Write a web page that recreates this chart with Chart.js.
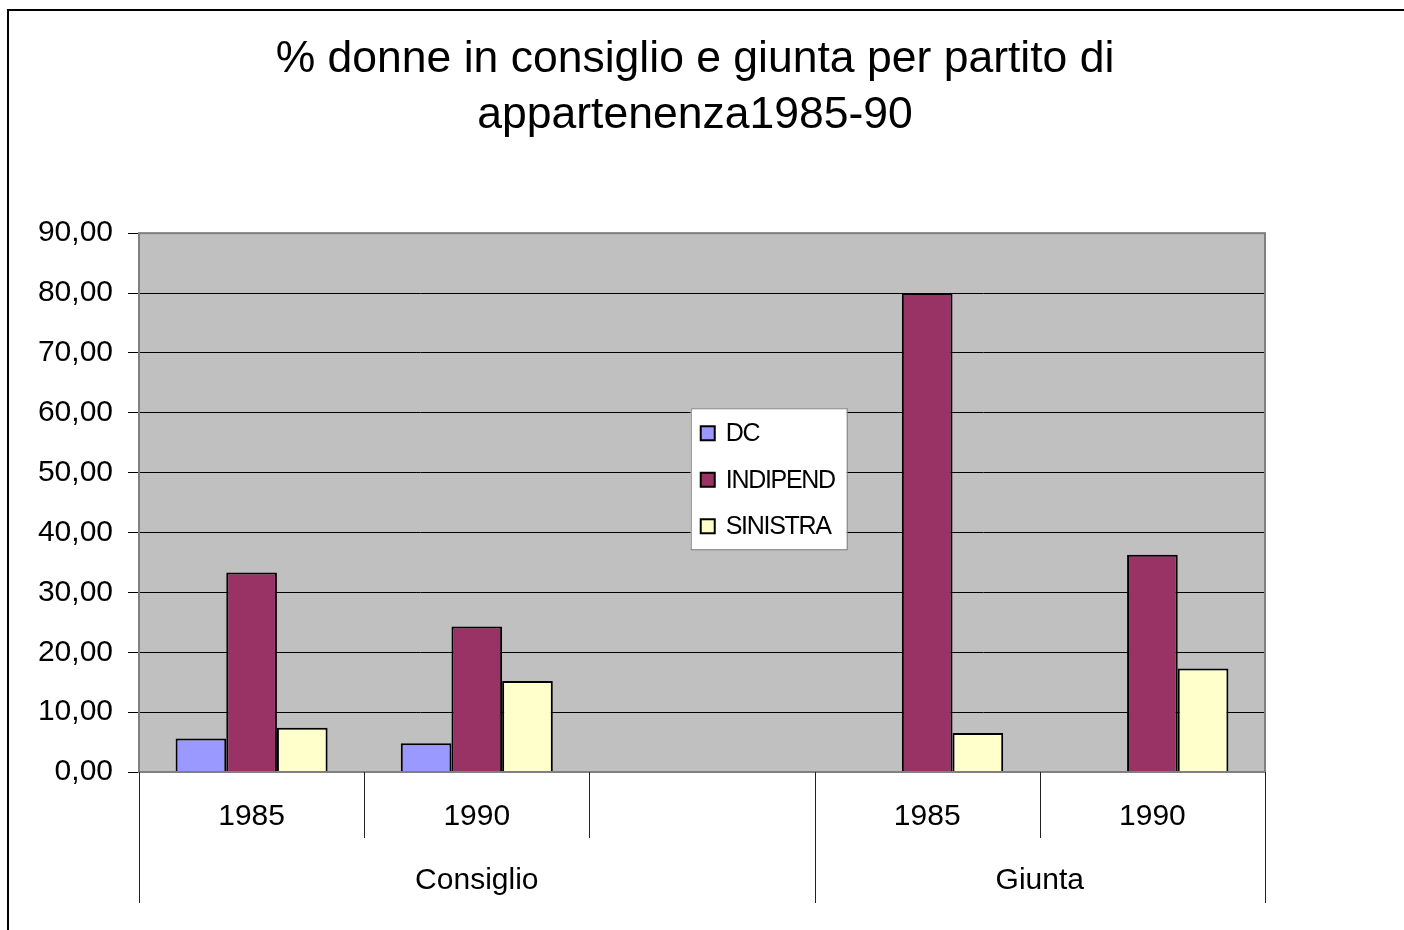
<!DOCTYPE html>
<html>
<head>
<meta charset="utf-8">
<script src="https://cdn.jsdelivr.net/npm/chart.js@4.4.0/dist/chart.umd.min.js"></script>
<style>
  html, body { margin: 0; padding: 0; background: #fff; }
  canvas { display: block; }
</style>
</head>
<body>
<canvas id="chart" width="1404" height="930"></canvas>
<script>
// data
const years = ['1985', '1990', '', '1985', '1990'];
const groups = ['Consiglio', 'Giunta'];
const groupSpans = [3, 2];
const dc = [5.6, 4.8, null, null, null];
const indipend = [33.3, 24.3, null, 80.0, 36.3];
const sinistra = [7.4, 15.2, null, 6.5, 17.3];
const titleLines = ['% donne in consiglio e giunta per partito di', 'appartenenza1985-90'];

const FONT = '"Liberation Sans", Arial, sans-serif';

// plot background, outer frame, two-level x axis and the boxed legend
const excelLook = {
  id: 'excelLook',
  beforeDraw(chart) {
    const { ctx, chartArea: a } = chart;
    ctx.save();
    ctx.fillStyle = '#fff';
    ctx.fillRect(0, 0, chart.width, chart.height);
    ctx.strokeStyle = '#000';
    ctx.lineWidth = 2;
    ctx.strokeRect(8, 10, chart.width + 40, chart.height + 40);
    ctx.fillStyle = '#c0c0c0';
    ctx.fillRect(a.left, a.top, a.right - a.left, a.bottom - a.top);
    ctx.restore();
  },
  afterDatasetsDraw(chart) {
    const { ctx, chartArea: a } = chart;
    ctx.save();
    ctx.strokeStyle = '#808080';
    ctx.lineWidth = 2;
    ctx.strokeRect(a.left, a.top, a.right - a.left, a.bottom - a.top);
    ctx.restore();
  },
  afterDraw(chart) {
    const { ctx, chartArea: a } = chart;
    const x = chart.scales.x;
    const n = chart.data.labels.length;
    const w = (x.right - x.left) / n;
    ctx.save();

    // category separators
    ctx.strokeStyle = '#222';
    ctx.lineWidth = 1;
    const groupEdges = [0];
    groupSpans.forEach(s => groupEdges.push(groupEdges[groupEdges.length - 1] + s));
    for (let i = 0; i <= n; i++) {
      const px = Math.round(x.left + i * w) + 0.5;
      const full = groupEdges.includes(i);
      ctx.beginPath();
      ctx.moveTo(px, a.bottom);
      ctx.lineTo(px, a.bottom + (full ? 131 : 66));
      ctx.stroke();
    }

    // year labels
    ctx.fillStyle = '#000';
    ctx.font = '30px ' + FONT;
    ctx.textAlign = 'center';
    ctx.textBaseline = 'middle';
    chart.data.labels.forEach((lab, i) => {
      if (lab) ctx.fillText(lab, x.getPixelForValue(i), a.bottom + 45);
    });

    // group labels
    groups.forEach((g, k) => {
      const cx = x.left + (groupEdges[k] + groupEdges[k + 1]) / 2 * w;
      ctx.fillText(g, cx, a.bottom + 109);
    });

    // legend box
    const lx = a.left + 0.49 * (a.right - a.left);
    const ly = a.top + 0.325 * (a.bottom - a.top);
    ctx.fillStyle = '#fff';
    ctx.fillRect(lx, ly, 156, 141);
    ctx.strokeStyle = '#808080';
    ctx.lineWidth = 1;
    ctx.strokeRect(lx + 0.5, ly + 0.5, 156, 141);
    ctx.font = '25px ' + FONT;
    ctx.textAlign = 'left';
    if ('letterSpacing' in ctx) ctx.letterSpacing = '-1.3px';
    chart.data.datasets.forEach((ds, i) => {
      const cy = ly + 25 + i * 46.5;
      ctx.fillStyle = ds.backgroundColor;
      ctx.fillRect(lx + 10, cy - 7, 14, 14);
      ctx.strokeStyle = '#000';
      ctx.lineWidth = 2;
      ctx.strokeRect(lx + 10, cy - 7, 14, 14);
      ctx.fillStyle = '#000';
      ctx.fillText(ds.label, lx + 35, cy + 1);
    });
    ctx.restore();
  }
};

new Chart(document.getElementById('chart'), {
  type: 'bar',
  data: {
    labels: years,
    datasets: [
      { label: 'DC', data: dc, backgroundColor: '#9999ff' },
      { label: 'INDIPEND', data: indipend, backgroundColor: '#993366' },
      { label: 'SINISTRA', data: sinistra, backgroundColor: '#ffffcc' }
    ]
  },
  options: {
    responsive: false,
    animation: false,
    layout: { padding: { left: 0, right: 14, top: 0, bottom: 0 } },
    datasets: {
      bar: {
        borderColor: '#000',
        borderWidth: 2,
        categoryPercentage: 0.675,
        barPercentage: 1.0
      }
    },
    plugins: {
      legend: { display: false },
      tooltip: { enabled: false },
      title: {
        display: true,
        text: titleLines,
        color: '#000',
        font: { family: FONT, size: 44.5, weight: 'normal', lineHeight: 1.26 },
        padding: { top: 32, bottom: 89 }
      }
    },
    scales: {
      x: {
        ticks: { display: false },
        grid: { display: false },
        border: { display: false },
        afterFit(scale) { scale.height = 158; }
      },
      y: {
        min: 0,
        max: 90,
        ticks: {
          stepSize: 10,
          color: '#000',
          padding: 15,
          font: { family: FONT, size: 30 },
          callback: v => v.toFixed(2).replace('.', ',')
        },
        grid: { color: '#000', lineWidth: 1, tickLength: 11 },
        border: { display: false },
        afterFit(scale) { scale.width = 139; }
      },
      // empty right-hand spacer so the title centres on the whole page
      y2: {
        position: 'right',
        min: 0,
        max: 90,
        ticks: { display: false },
        grid: { display: false, drawTicks: false },
        border: { display: false },
        afterFit(scale) { scale.width = 125; }
      }
    }
  },
  plugins: [excelLook]
});
</script>
</body>
</html>
